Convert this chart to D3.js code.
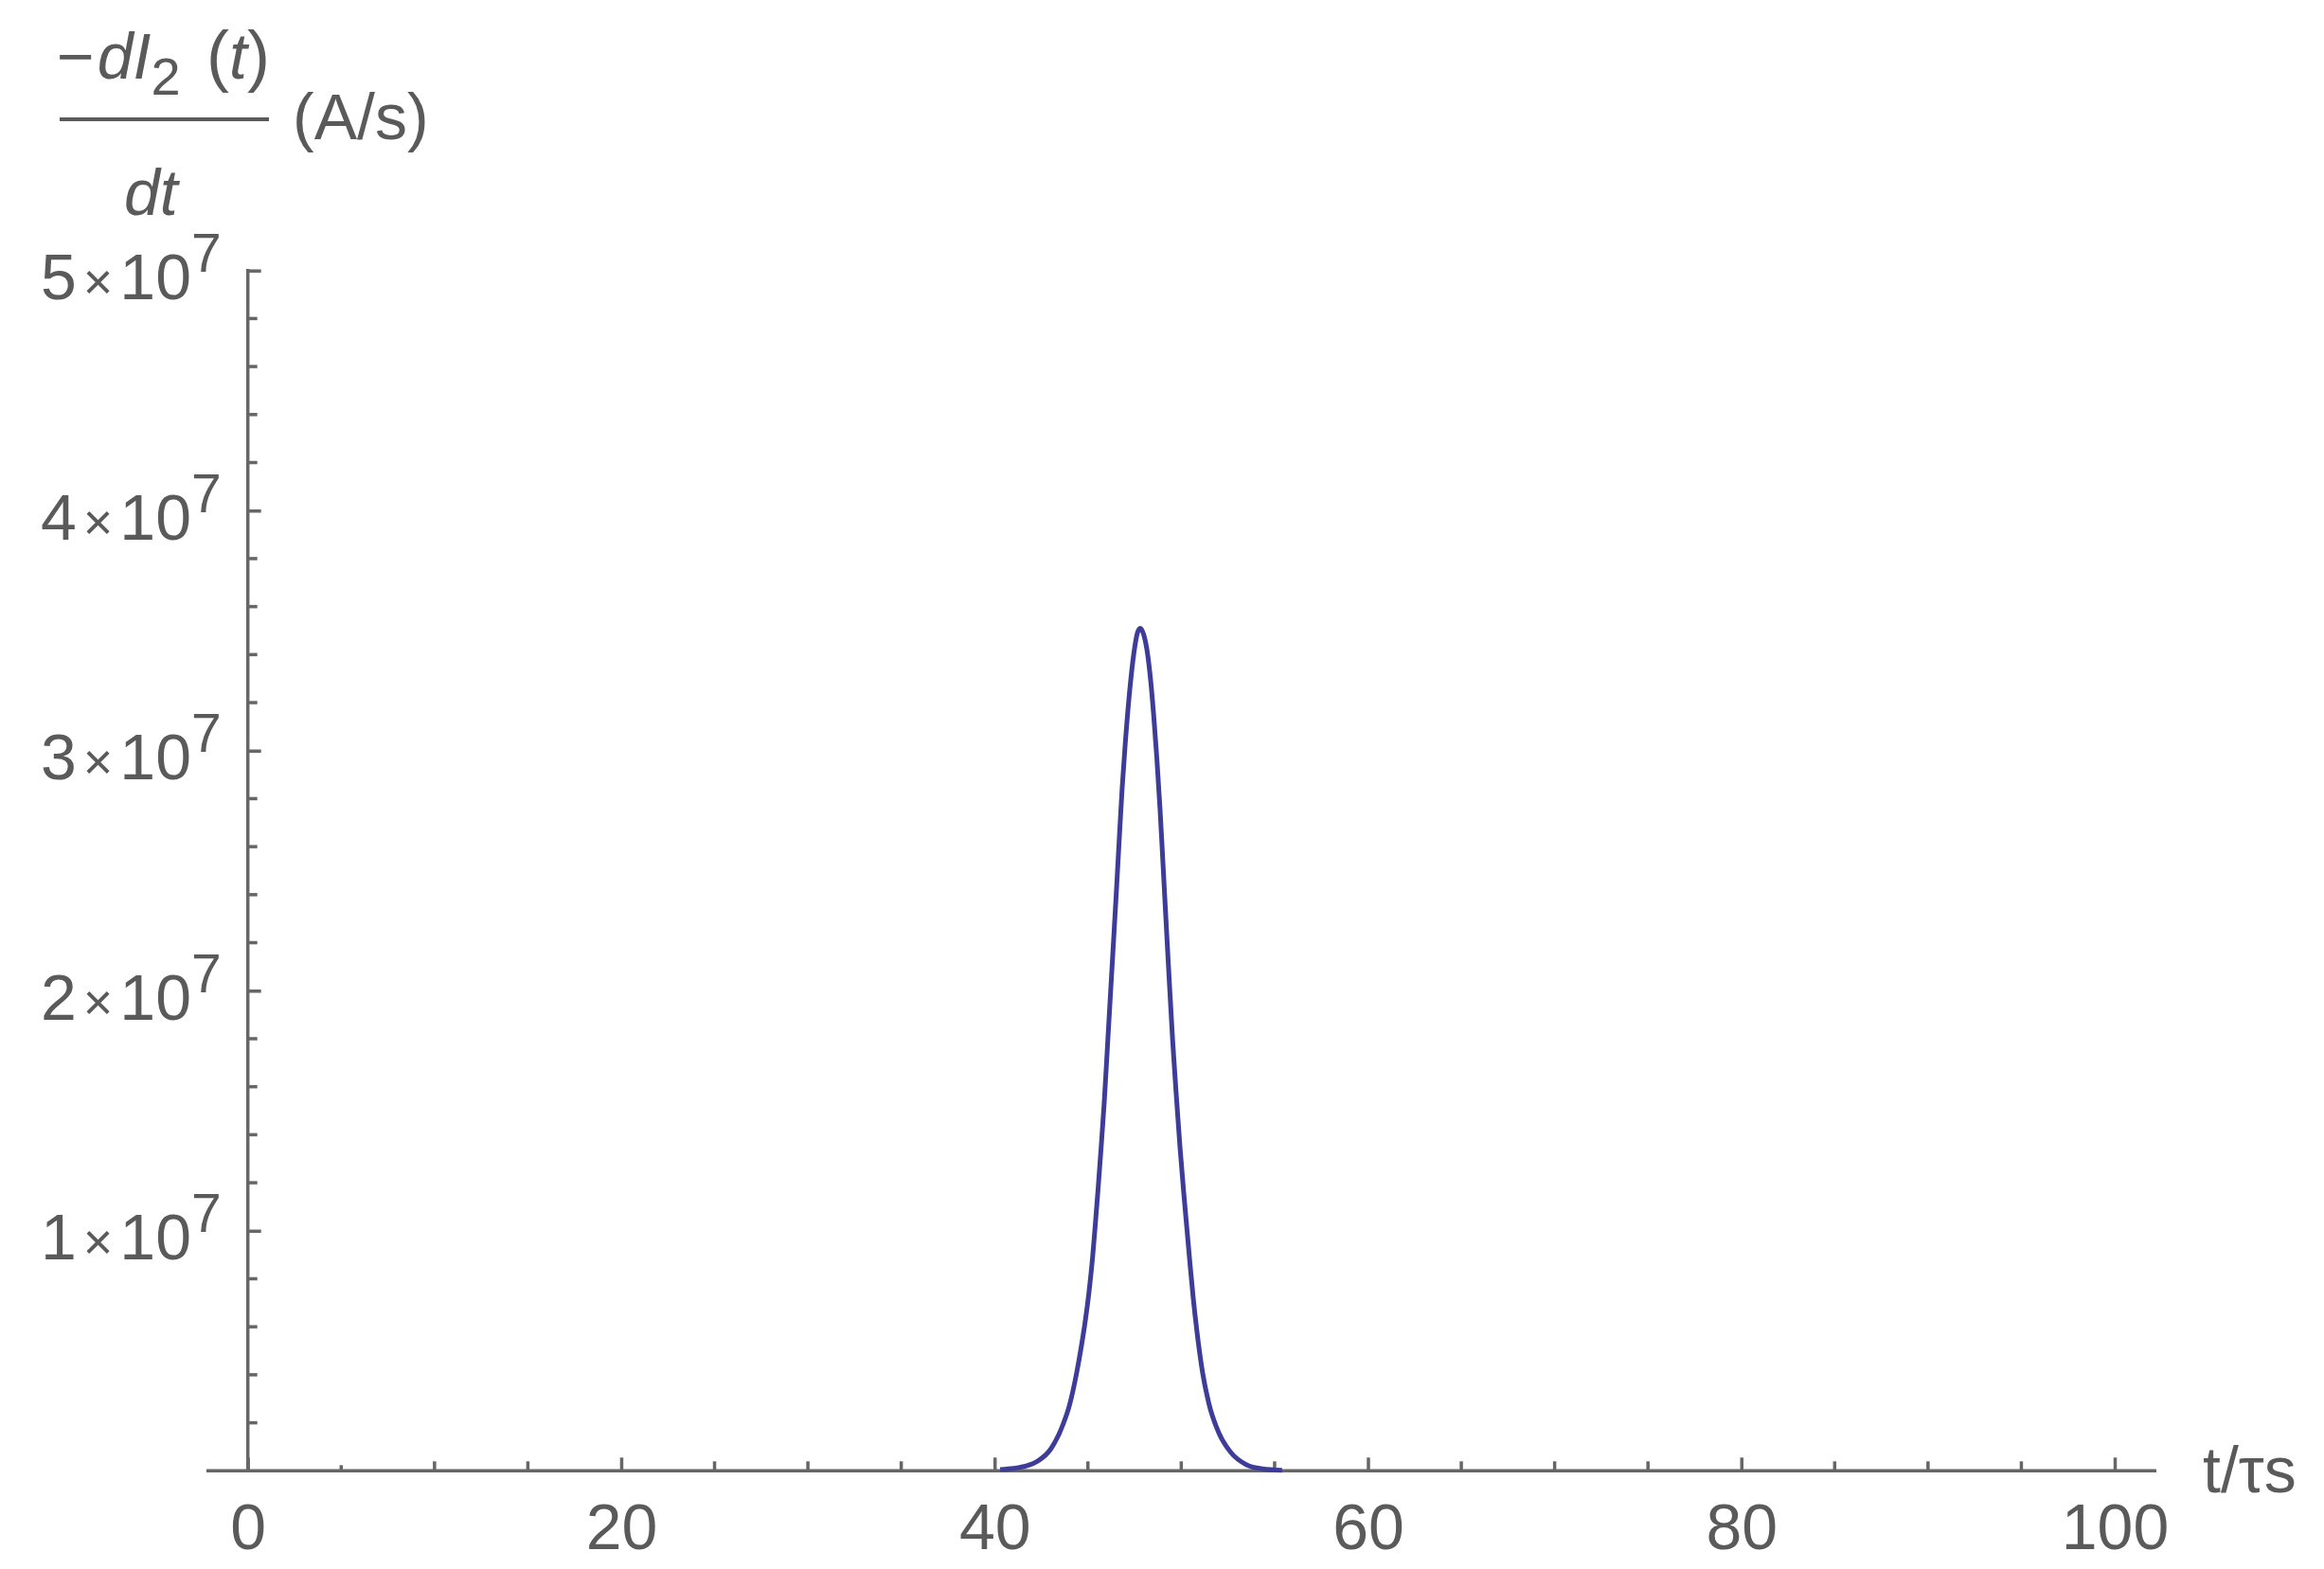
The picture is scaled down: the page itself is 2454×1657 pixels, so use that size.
<!DOCTYPE html>
<html>
<head>
<meta charset="utf-8">
<script src="https://cdn.jsdelivr.net/npm/d3@7"></script>
<style>
  body { margin: 0; background: #fff; }
  text { font-family: "Liberation Sans", Arial, sans-serif; fill: #5a5a5a; }
</style>
</head>
<body>
<div id="chart"></div>
<script>
// t/τs values
const tValues = [40.3, 41.0, 41.7, 42.3, 43.0, 43.7, 44.0, 44.4, 44.65, 44.85,
  45.05, 45.25, 45.4, 45.55, 45.7, 45.87, 46.07, 46.33, 46.5, 46.67,
  46.83, 47.0, 47.25, 47.45, 47.65, 47.8, 48.0, 48.2, 48.35, 48.52,
  48.69, 48.86, 49.0, 49.17, 49.33, 49.54, 49.71, 49.93, 50.13, 50.3,
  50.47, 50.64, 50.84, 51.14, 51.48, 52.0, 52.67, 53.5, 54.35, 55.4];

// -dI2/dt in A/s
const rateValues = [0.05e6, 0.1e6, 0.2e6, 0.4e6, 0.9e6, 2.0e6, 2.7e6, 4.1e6, 5.2e6, 6.2e6,
  7.4e6, 8.9e6, 10.3e6, 11.8e6, 13.4e6, 15.3e6, 18.0e6, 21.5e6, 23.8e6, 26.2e6,
  28.4e6, 30.3e6, 32.6e6, 34.0e6, 34.9e6, 35.1e6, 34.8e6, 34.0e6, 33.0e6, 31.5e6,
  29.7e6, 27.6e6, 25.6e6, 23.1e6, 20.8e6, 17.9e6, 15.9e6, 13.5e6, 11.6e6, 10.1e6,
  8.6e6, 7.2e6, 5.8e6, 4.1e6, 2.8e6, 1.6e6, 0.75e6, 0.25e6, 0.08e6, 0.02e6];

// ticks
const xMajorTicks = [0, 20, 40, 60, 80, 100];
const yMajorTicks = [1e7, 2e7, 3e7, 4e7, 5e7];

const width = 2454;
const height = 1657;

const svg = d3.select("#chart")
    .append("svg")
    .attr("width", width)
    .attr("height", height);

// escalas
const x = d3.scaleLinear().domain([0, 100]).range([261.7, 2233]);
const y = d3.scaleLinear().domain([0, 5e7]).range([1553.3, 285.7]);

const axisColor = "#666";
const textColor = "#5a5a5a";

// eje x
const xAxis = svg.append("g")
    .attr("transform", `translate(0,${y(0)})`)
    .call(d3.axisBottom(x).tickValues(xMajorTicks).tickSizeInner(-14).tickSizeOuter(0)
        .tickPadding(34).tickFormat(d3.format("d")));
xAxis.select(".domain").remove();
xAxis.selectAll("line").attr("stroke", axisColor).attr("stroke-width", 3.5);
xAxis.selectAll("text").attr("font-size", 68).attr("fill", textColor)
    .attr("font-family", "Liberation Sans, Arial, sans-serif");

// ticks menores x
svg.append("g").selectAll("line")
    .data(x.ticks(20).filter(d => !xMajorTicks.includes(d)))
    .join("line")
    .attr("x1", d => x(d)).attr("x2", d => x(d))
    .attr("y1", y(0)).attr("y2", d => y(0) - (d === 5 ? 6 : 10))
    .attr("stroke", axisColor).attr("stroke-width", 3.5);

svg.append("line")
    .attr("x1", 218).attr("x2", 2277)
    .attr("y1", y(0)).attr("y2", y(0))
    .attr("stroke", axisColor).attr("stroke-width", 3.5);

// eje y
const yAxis = svg.append("g")
    .attr("transform", `translate(${x(0)},0)`)
    .call(d3.axisLeft(y).tickValues(yMajorTicks).tickSizeInner(-14).tickSizeOuter(0)
        .tickPadding(28));
yAxis.select(".domain").remove();
yAxis.selectAll("line").attr("stroke", axisColor).attr("stroke-width", 3.5);
yAxis.selectAll("text")
    .attr("font-size", 68).attr("fill", textColor)
    .attr("font-family", "Liberation Sans, Arial, sans-serif")
    .attr("dy", null).attr("y", 30)
    .text(null)
    .each(function(d) {
        const t = d3.select(this);
        const mant = Math.round(d / 1e7);
        t.append("tspan").text(mant);
        t.append("tspan").attr("dx", 7).attr("font-size", 54).text("×");
        t.append("tspan").attr("dx", 7).text("10");
        t.append("tspan").attr("font-size", 57).attr("dy", -29).text("7");
    });

svg.append("g").selectAll("line")
    .data(y.ticks(25).filter(d => !yMajorTicks.includes(d) && d > 0))
    .join("line")
    .attr("x1", x(0)).attr("x2", x(0) + 10)
    .attr("y1", d => y(d)).attr("y2", d => y(d))
    .attr("stroke", axisColor).attr("stroke-width", 3.5);

svg.append("line")
    .attr("x1", x(0)).attr("x2", x(0))
    .attr("y1", y(5e7) - 1.75).attr("y2", y(0))
    .attr("stroke", axisColor).attr("stroke-width", 3.5);

// curva
const points = tValues.map((t, i) => [t, rateValues[i]]);
const line = d3.line()
    .x(d => x(d[0]))
    .y(d => y(d[1]))
    .curve(d3.curveMonotoneX);

svg.append("path")
    .datum(points)
    .attr("d", line)
    .attr("fill", "none")
    .attr("stroke", "#3d3d99")
    .attr("stroke-width", 5)
    .attr("stroke-linejoin", "round");

// etiqueta eje x
svg.append("text")
    .attr("x", 2326).attr("y", 1576)
    .attr("font-size", 68)
    .text("t/τs");

// etiqueta eje y (fracción)
const num = svg.append("text").attr("x", 60).attr("y", 83).attr("font-size", 68);
num.append("tspan").text("−");
num.append("tspan").attr("font-style", "italic").attr("dx", 3).text("dI");
num.append("tspan").attr("font-size", 56).attr("dy", 17).text("2");
num.append("tspan").attr("dy", -17).attr("x", 218).attr("font-size", 72).text("(");
num.append("tspan").attr("font-style", "italic").text("t");
num.append("tspan").attr("font-size", 72).text(")");

svg.append("line")
    .attr("x1", 63).attr("x2", 284)
    .attr("y1", 126).attr("y2", 126)
    .attr("stroke", textColor).attr("stroke-width", 4);

svg.append("text")
    .attr("x", 131).attr("y", 227)
    .attr("font-size", 68)
    .attr("font-style", "italic")
    .text("dt");

svg.append("text")
    .attr("x", 309).attr("y", 147)
    .attr("font-size", 68)
    .text("(A/s)");
</script>
</body>
</html>
